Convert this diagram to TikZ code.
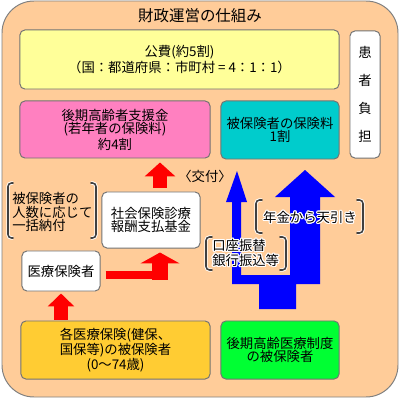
\documentclass[tikz,border=0pt]{standalone}
\usepackage{fontspec}
\setmainfont{Noto Sans CJK JP}
\usepackage{contour}
\contourlength{0.8pt}
\usetikzlibrary{arrows.meta,calc}

\definecolor{peach}{HTML}{FFCC99}
\definecolor{publicyellow}{HTML}{FFFF99}
\definecolor{supportpink}{HTML}{FF80C0}
\definecolor{premiumcyan}{HTML}{00CCCC}
\definecolor{insuredorange}{HTML}{FFCC33}
\definecolor{elderlygreen}{HTML}{00FF33}

\begin{document}
\begin{tikzpicture}[x=0.025cm,y=-0.025cm,
  box/.style={draw=black!55, line width=0.7pt, rounded corners=3.5pt, align=center,
    inner sep=0pt, font=\fontsize{9.5}{9.7}\selectfont},
  note/.style={inner sep=0pt, font=\fontsize{9.5}{9.4}\selectfont},
  brak/.style={draw=black!75, line width=1.1pt, rounded corners=2.5pt, line cap=round,
    preaction={draw=white, line width=2.4pt}},
  redup/.style={draw=red, line width=#1}]

  \useasboundingbox (0,0) rectangle (400,400);

  % Frame
  \draw[draw=black!50, line width=0.7pt, fill=peach, rounded corners=0.8cm] (2,1) rectangle (398,397);
  \node[font=\fontsize{11}{11}\selectfont] (title) at (200,16) {財政運営の仕組み};

  % Boxes
  \node[box, fill=publicyellow, minimum width=7.975cm, minimum height=1.475cm] (public) at (179.5,59.5)
    {公費(約5割)\\（国：都道府県：市町村 = 4：1：1）};
  \node[box, fill=white, minimum width=0.75cm, minimum height=3.175cm,
    font=\fontsize{9.5}{19.8}\selectfont] (patient) at (365,94.5) {患\\者\\負\\担};
  \node[box, fill=supportpink, minimum width=4.75cm, minimum height=1.425cm] (support) at (115,129.5)
    {後期高齢者支援金\\(若年者の保険料)\\約4割};
  \node[box, fill=premiumcyan, minimum width=2.95cm, minimum height=1.45cm] (premium) at (280,130)
    {被保険者の保険料\\1割};
  \node[box, fill=white, minimum width=2.45cm, minimum height=1.4cm] (fund) at (151,220)
    {社会保険診療\\報酬支払基金};
  \node[box, fill=white, minimum width=1.95cm, minimum height=1cm] (insurer) at (61,271) {医療保険者};
  \node[box, fill=insuredorange, minimum width=4.725cm, minimum height=1.45cm] (young) at (115.5,350)
    {各医療保険(健保、\\国保等)の被保険者\\(0～74歳)};
  \node[box, fill=elderlygreen, minimum width=2.95cm, minimum height=1.45cm] (elderly) at (280,350)
    {後期高齢医療制度\\の被保険者};

  % Red = money through the insurers
  \draw[redup=10.6pt, -{Triangle[width=18.4pt,length=9.2pt]}]
    ($(young.north -| insurer.south)+(0,-1)$) -- ($(insurer.south)+(0,2)$);
  \draw[redup=5.7pt] ($(insurer.east)+(5,4)$) -- ($(insurer.east -| fund.south)+(17,4)$);
  \draw[redup=11.3pt, -{Triangle[width=27.6pt,length=7.8pt]}]
    ($(fund.south)+(9,31)$) -- ($(fund.south)+(9,4)$);
  \draw[redup=9.9pt, -{Triangle[width=21.3pt,length=9.9pt]}]
    ($(fund.north)+(9,-4)$) -- ($(support.south -| fund.north)+(9,4)$);
  \node[note, anchor=west] (grant) at (178,176) {〈交付〉};

  % Blue = premiums of the elderly insured
  \fill[blue] (232,284) -- (232,202) -- (226,202) -- (237,171) -- (247,202) -- (241,202)
    -- (241,275) -- (290,275) -- (290,197) -- (275,197) -- (305,170) -- (335,197)
    -- (320,197) -- (320,284) -- (296,284) -- (296,309) -- (259,309) -- (259,284) -- cycle;

  % Bracketed notes
  \draw[brak] (13,183) -- (8,183) -- (8,238) -- (13,238);
  \draw[brak] (91,183) -- (96,183) -- (96,238) -- (91,238);
  \node[note, anchor=west, align=left] (lump) at (12,212) {被保険者の\\人数に応じて\\一括納付};

  \draw[brak] (262,200) -- (256,200) -- (256,233) -- (262,233);
  \draw[brak] (357,200) -- (363,200) -- (363,233) -- (357,233);
  \node[note] (pension) at (310,218) {\contour{white}{年金から天引き}};

  \draw[brak] (212,237) -- (206,237) -- (206,270) -- (212,270);
  \draw[brak] (280,237) -- (286,237) -- (286,270) -- (280,270);
  \node[note, anchor=west, align=left] (bank) at (212,253.5)
    {\contour{white}{口座振替}\\\contour{white}{銀行振込等}};

\end{tikzpicture}
\end{document}
